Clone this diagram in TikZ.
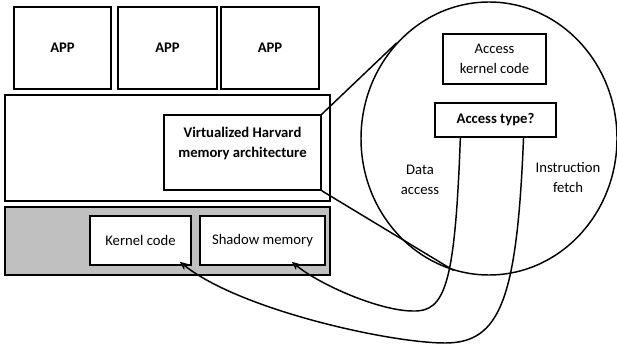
\documentclass[tikz,border=0pt]{standalone}
\usepackage{fontspec}
\setmainfont{Carlito}
\usetikzlibrary{calc,shapes.geometric,arrows.meta}

\begin{document}
\begin{tikzpicture}[x=0.75pt,y=0.75pt,yscale=-1,xscale=1,
  box/.style={draw, line width=1.1pt, fill=white, inner sep=0pt, align=center, font=\fontsize{11}{15}\selectfont},
  label/.style={inner sep=0pt, align=center, font=\fontsize{11}{15}\selectfont},
  curve/.style={line width=1.1pt, -{Stealth[length=6.5pt,width=5.5pt,inset=2pt]}}]
\useasboundingbox (0,0) rectangle (617,349);

%Shape: Rectangle
\draw (62.5,48) node [box, minimum width=72.75pt, minimum height=61.5pt] (app1) {\textbf{APP}};
%Shape: Rectangle
\draw (167.5,48) node [box, minimum width=74.25pt, minimum height=61.5pt] (app2) {\textbf{APP}};
%Shape: Rectangle
\draw (270,48) node [box, minimum width=73.5pt, minimum height=61.5pt] (app3) {\textbf{APP}};
%Shape: Rectangle
\draw (167.5,148) node [box, minimum width=243.75pt, minimum height=79.5pt] (vmm) {};
%Shape: Rectangle
\draw (167.5,241) node [box, fill={rgb, 255:red, 192; green, 192; blue, 192 }, minimum width=243.75pt, minimum height=51pt] (mem) {};
%Shape: Rectangle
\draw (242.5,152.5) node [box, minimum width=117.75pt, minimum height=56.25pt] (vhma) {\textbf{Virtualized Harvard}\\\textbf{memory architecture}\\\mbox{}};
%Shape: Rectangle
\draw (140.5,240.5) node [box, minimum width=75.75pt, minimum height=36.75pt] (kernel) {Kernel code};
%Shape: Rectangle
\draw (262.5,240.5) node [box, minimum width=93.75pt, minimum height=36.75pt] (shadow) {Shadow memory};

%Shape: Ellipse
\draw (489,138.5) node [draw, ellipse, line width=1.1pt, inner sep=0pt, minimum width=192pt, minimum height=204.75pt] (zoom) {};
%Straight Lines
\draw [line width=1.1pt] (vhma.north east) -- (zoom.134);
%Straight Lines
\draw [line width=1.1pt] (vhma.south east) -- (zoom.255);

%Shape: Rectangle
\draw (494.5,59) node [box, minimum width=77.25pt, minimum height=37.5pt] (akc) {Access\\kernel code};
%Shape: Rectangle
\draw (495.5,120) node [box, line width=1.8pt, minimum width=90.75pt, minimum height=25.5pt] (type) {\textbf{Access type?}};

% Text Node
\draw (420,180) node [label] (data) {Data\\access};
% Text Node
\draw (568,177) node [label] (fetch) {Instruction\\fetch};

%Curve Lines
\draw [curve] ($(type.south west)!0.215!(type.south east)$) .. controls (455,285) and (445,312) .. (413,311) .. controls (380,311) and (320,285) .. ($(shadow.south east)+(-34,-4)$);
%Curve Lines
\draw [curve] ($(type.south west)!0.727!(type.south east)$) .. controls (517,300) and (500,343) .. (445,343) .. controls (390,343) and (240,310) .. ($(kernel.south east)+(-12,-4)$);

\end{tikzpicture}
\end{document}
